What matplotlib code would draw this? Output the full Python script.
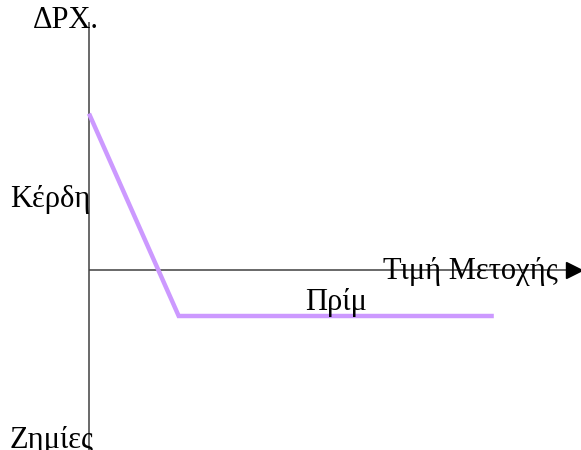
"""Payoff diagram: long put style profit/loss vs share price (Greek labels)."""

import matplotlib
matplotlib.use("Agg")
import matplotlib.pyplot as plt

# ---------------------------------------------------------------------------
# Data (arbitrary units, origin at the axis crossing)
# ---------------------------------------------------------------------------
price = [0.0, 3.9, 17.6]
payoff = [6.8, -2.0, -2.0]

y_label_top = "ΔPX."
x_label = "Τιμή Μετοχής"
gain_label = "Κέρδη"
loss_label = "Ζημίες"
premium_label = "Πρίμ"

PURPLE = "#cc99ff"
AXIS_GREY = "#404040"
SCALE = 23.0  # pixels per data unit

# ---------------------------------------------------------------------------
# Figure
# ---------------------------------------------------------------------------
fig = plt.figure(figsize=(5.81, 4.5), dpi=100)
ax = fig.add_axes([0, 0, 1, 1])
ax.set_xlim(-89 / SCALE, (581 - 89) / SCALE)
ax.set_ylim(-180 / SCALE, 270 / SCALE)
ax.axis("off")

# axes with arrow on the price axis
ax.plot([0, 0], [10.8, -7.9], color=AXIS_GREY, lw=1.1, solid_capstyle="butt")
ax.plot([0, 21.0], [0, 0], color=AXIS_GREY, lw=1.1, solid_capstyle="butt")
ax.plot([21.1], [0], marker=">", ms=11, color="black", mec="black")

# payoff line
ax.plot(price, payoff, color=PURPLE, lw=3.2, solid_joinstyle="miter",
        solid_capstyle="butt")

font = dict(family="Liberation Serif", fontsize=22, color="black")
ax.text(-2.45, 10.85, y_label_top, ha="left", va="center", **font)
ax.text(-3.45, 3.05, gain_label, ha="left", va="center", **font)
ax.text(-3.45, -7.4, loss_label, ha="left", va="center", **font)
ax.text(12.8, -0.05, x_label, ha="left", va="center", **font)
ax.text(9.4, -1.4, premium_label, ha="left", va="center", **font)

fig.savefig("out.png", dpi=100)
